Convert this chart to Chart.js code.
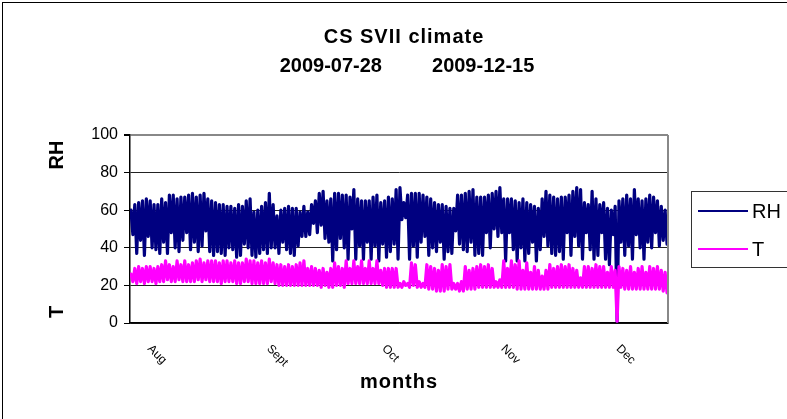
<!DOCTYPE html>
<html><head><meta charset="utf-8">
<script src="https://cdn.jsdelivr.net/npm/chart.js@4"></script>
<style>html,body{margin:0;padding:0;background:#fff;overflow:hidden}</style>
</head><body>
<canvas id="c" width="787" height="419" style="width:787px;height:419px;display:block"></canvas>
<script>
const title1 = 'CS SVII climate';
const title2 = '2009-07-28         2009-12-15';
const xTitle = 'months';
const yTitleTop = 'RH';
const yTitleBottom = 'T';
const seriesNames = ['RH', 'T'];
const monthLabels = ['Aug', 'Sept', 'Oct', 'Nov', 'Dec'];
const monthDays = [4, 35, 65, 96, 126];   // days after 2009-07-28
const totalDays = 140;                    // 2009-07-28 .. 2009-12-15
const yTicks = [0, 20, 40, 60, 80, 100];

// daily maximum / minimum (day 0 = 2009-07-28)
const rhMax = [60,63,64,65,66,65,63,63,66,64,68,68,66,67,67,68,69,67,68,69,66,65,64,63,63,62,62,61,
  63,62,65,66,59,60,62,64,69,63,57,60,61,62,61,61,59,62,59,63,65,69,70,65,66,69,69,68,
  68,67,71,66,65,65,65,67,68,64,65,67,66,71,72,64,68,69,69,69,68,67,66,64,63,63,62,61,
  61,68,68,69,70,71,67,67,67,68,69,70,72,66,66,66,65,64,66,64,63,62,61,66,70,68,67,66,
  67,67,68,70,72,71,64,63,70,66,63,64,61,60,62,65,66,68,66,71,66,65,66,68,67,65,62,60];
const rhMin = [47,37,44,36,46,40,39,37,43,37,48,40,38,44,48,39,43,38,41,49,38,36,38,37,36,40,39,35,
  36,42,40,36,35,37,39,37,40,40,37,43,39,37,36,41,46,46,47,53,48,52,45,43,33,39,45,40,
  34,50,34,41,34,43,34,41,33,42,35,38,42,34,55,56,34,41,35,43,46,36,40,38,43,34,38,37,
  49,42,39,38,43,36,37,36,48,40,50,46,48,33,48,39,33,40,33,37,43,33,39,46,41,37,36,38,
  34,48,36,46,41,34,48,39,34,36,48,34,31,47,1,43,36,41,34,47,40,34,43,40,48,41,44,42];
const tMax = [26,29,30,29,30,30,29,30,31,33,31,30,33,31,33,31,32,33,34,32,33,33,33,32,33,33,32,33,
  32,32,34,33,33,32,33,32,34,32,31,31,30,31,30,31,32,33,29,30,29,28,29,27,29,32,30,29,
  33,29,33,30,33,29,33,29,33,28,29,29,29,29,21,22,21,32,31,22,21,31,30,29,28,31,30,31,
  21,21,22,30,28,29,30,31,30,31,29,22,23,33,29,33,31,33,28,32,27,30,28,25,28,31,29,30,
  31,30,31,29,28,24,30,30,29,31,30,30,27,30,28,30,29,28,30,27,29,30,27,30,29,30,28,27];
const tMin = [22,21,22,21,22,22,21,22,22,23,22,22,23,22,22,22,22,23,22,23,22,22,22,21,22,22,22,21,
  21,22,22,21,21,21,21,21,22,21,20,20,20,20,20,20,20,20,20,20,20,19,20,19,19,20,20,19,
  21,21,21,21,21,21,21,21,21,20,19,19,19,19,19,20,19,20,19,19,19,18,18,17,17,17,18,18,
  18,17,17,18,18,18,19,19,19,19,19,19,19,19,19,19,18,18,18,18,18,18,18,18,18,19,19,19,
  19,19,19,19,19,19,19,19,19,19,19,19,19,19,1,19,18,18,18,18,18,18,18,18,18,18,17,16];

function toPoints(maxArr, minArr) {
  const pts = [];
  for (let d = 0; d < maxArr.length; d++) {
    pts.push({x: d + 0.25, y: maxArr[d]});
    pts.push({x: d + 0.75, y: minArr[d]});
  }
  return pts;
}

const FONT = '"Liberation Sans", Arial, sans-serif';
const NAVY = '#000080', MAG = '#FF00FF';

const decor = {
  id: 'decor',
  beforeDraw(chart) {
    const c = chart.ctx;
    c.save(); c.fillStyle = '#fff'; c.fillRect(0, 0, chart.width, chart.height); c.restore();
  },
  afterDraw(chart) {
    const c = chart.ctx, a = chart.chartArea, xs = chart.scales.x;
    c.save();
    // outer chart border
    c.strokeStyle = '#000'; c.lineWidth = 1;
    c.strokeRect(2.5, 2.5, 900, 600);
    // plot area right border
    c.strokeStyle = '#888'; c.lineWidth = 2;
    c.beginPath(); c.moveTo(a.right, a.top); c.lineTo(a.right, a.bottom); c.stroke();
    c.fillStyle = '#000';
    // titles
    c.textAlign = 'center'; c.textBaseline = 'middle';
    c.font = 'bold 20px ' + FONT;
    c.letterSpacing = '1px';
    c.fillText(title1, 404, 37);
    c.letterSpacing = '0px';
    c.fillText(title2, 407, 66);
    c.letterSpacing = '1px';
    c.fillText(xTitle, 399, 382);
    c.letterSpacing = '0px';
    // y titles
    c.save(); c.translate(57, 155); c.rotate(-Math.PI / 2); c.fillText(yTitleTop, 0, 0); c.restore();
    c.save(); c.translate(57, 312); c.rotate(-Math.PI / 2); c.fillText(yTitleBottom, 0, 0); c.restore();
    // month labels
    c.font = '12px ' + FONT; c.textAlign = 'left'; c.textBaseline = 'middle';
    monthLabels.forEach((m, i) => {
      const px = xs.getPixelForValue(monthDays[i]);
      c.save(); c.translate(px + 4, 347); c.rotate(Math.PI / 4); c.fillText(m, 0, 0); c.restore();
    });
    // legend
    c.strokeStyle = '#333'; c.lineWidth = 1;
    c.strokeRect(691.5, 191.5, 120, 76);
    const ly = [211, 249], lc = [NAVY, MAG];
    c.font = '20px ' + FONT; c.textAlign = 'left'; c.textBaseline = 'middle';
    seriesNames.forEach((n, i) => {
      c.strokeStyle = lc[i]; c.lineWidth = 2;
      c.beginPath(); c.moveTo(698, ly[i]); c.lineTo(748, ly[i]); c.stroke();
      c.fillStyle = '#000'; c.fillText(n, 752, ly[i] + 1);
    });
    c.restore();
  }
};

new Chart(document.getElementById('c'), {
  type: 'line',
  data: {
    datasets: [
      {label: seriesNames[0], data: toPoints(rhMax, rhMin), borderColor: NAVY, borderWidth: 3.2, borderJoinStyle: 'round', borderCapStyle: 'round', pointRadius: 0, order: 2},
      {label: seriesNames[1], data: toPoints(tMax, tMin), borderColor: MAG, borderWidth: 3.2, borderJoinStyle: 'round', borderCapStyle: 'round', pointRadius: 0, order: 1}
    ]
  },
  options: {
    responsive: false,
    animation: false,
    devicePixelRatio: 1,
    layout: {padding: {left: 0, top: 135, right: 119, bottom: 96}},
    plugins: {legend: {display: false}, title: {display: false}, tooltip: {enabled: false}},
    scales: {
      x: {
        type: 'linear', min: 0, max: totalDays,
        grid: {display: false},
        ticks: {display: false},
        border: {display: true, color: '#000', width: 1.5},
        afterFit: s => { s.height = 0; }
      },
      y: {
        min: 0, max: 100,
        afterBuildTicks: s => { s.ticks = yTicks.map(v => ({value: v})); },
        afterFit: s => { s.width = 130; },
        ticks: {color: '#000', font: {family: FONT, size: 16}, padding: 6},
        grid: {
          color: ctx => (ctx.tick && ctx.tick.value === 100) ? '#888' : '#222',
          lineWidth: ctx => (ctx.tick && ctx.tick.value === 100) ? 2 : 1,
          tickLength: 6, tickColor: '#000', drawTicks: true
        },
        border: {display: true, color: '#000', width: 1.5}
      }
    }
  },
  plugins: [decor]
});
</script>
</body></html>
